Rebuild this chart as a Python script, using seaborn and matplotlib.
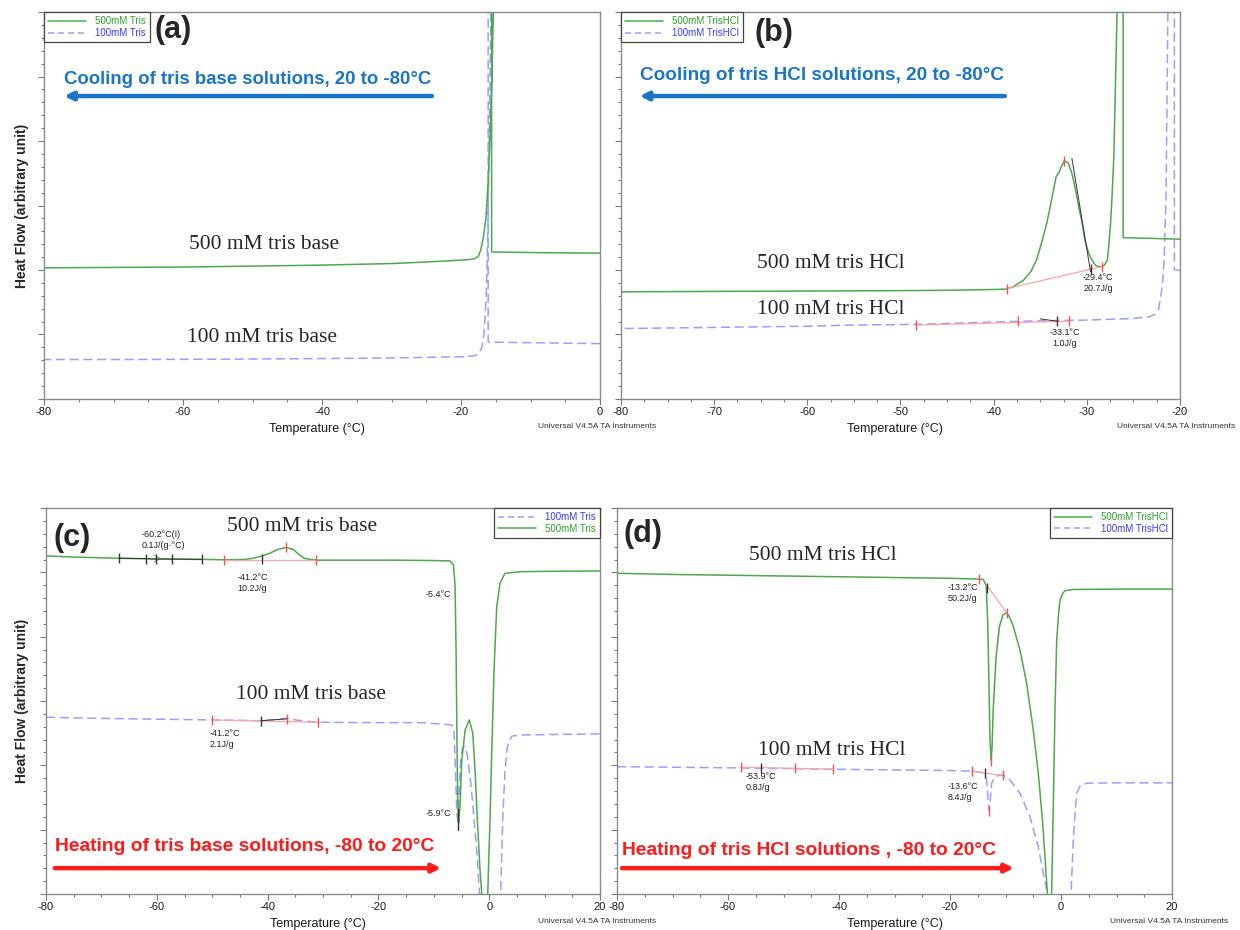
import pandas as pd
import matplotlib
matplotlib.use("Agg")
import matplotlib.pyplot as plt
from matplotlib.ticker import MultipleLocator
from matplotlib.lines import Line2D
import seaborn as sns

sns.set_theme(style="white")
plt.rcParams["font.family"] = ["Liberation Sans", "DejaVu Sans"]
plt.rcParams["axes.unicode_minus"] = False
SERIF = ["Liberation Serif", "DejaVu Serif"]

GREEN = "#4ea84e"
BLUE = "#9d9dff"
GREEN_TXT = "#2e9e2e"
BLUE_TXT = "#3a3aff"
RED_MARK = "#ff4d4d"
RED_LINE = "#ffa3a3"
DARK = "#333333"
TITLE_BLUE = "#1a74c8"
TITLE_RED = "#ff1a1a"

# ---------------- (a) cooling, tris base ----------------
a_t_500 = [0, -8, -15.6, -15.6, -15.2, -15.35, -15.55, -15.8, -16.1, -16.4, -16.8,
           -17.2, -17.5, -18.0, -19.0, -20, -25, -30, -40, -52, -60, -70, -80]
a_hf_500 = [37.7, 37.8, 38.0, 120, 120, 99.7, 84, 68.7, 56, 47.1, 41.5,
            38.3, 36.9, 36.3, 36.0, 35.9, 35.4, 35.0, 34.6, 34.3, 34.1, 34.0, 33.9]
a_t_100 = [0, -8, -16.1, -16.1, -15.6, -15.7, -15.85, -16.06, -16.25, -16.4, -16.7,
           -17.0, -17.5, -18.2, -20, -30, -40, -52, -60, -70, -80]
a_hf_100 = [14.3, 14.5, 14.7, 120, 120, 99.7, 80, 51.4, 35, 25.6, 17,
            13.3, 11.6, 11.1, 10.9, 10.6, 10.45, 10.3, 10.25, 10.2, 10.2]

# ---------------- (b) cooling, tris HCl ----------------
b_t_500 = [-20, -23, -26.1, -26.1, -26.6, -26.8, -27.1, -27.3, -27.45, -27.65, -27.8,
           -28.1, -28.4, -28.8, -29.1, -29.4, -29.8, -30.2, -30.5, -30.9, -31.2, -31.6,
           -32.0, -32.4, -32.7, -33.0, -33.3, -33.7, -34.3, -34.9, -35.4, -36.0, -36.8,
           -37.9, -38.7, -40, -45, -50, -60, -70, -80]
b_hf_500 = [41.3, 41.5, 41.7, 120, 120, 95, 62.6, 52, 45.4, 39.5, 35.9,
            34.6, 34.2, 34.3, 34.6, 35.8, 37.6, 41, 45.4, 50, 54, 58.3,
            61, 61.6, 60.2, 58.5, 57.4, 52.5, 45.4, 40, 35.9, 33, 30.7,
            29.0, 28.4, 28.3, 28.1, 28.0, 27.9, 27.8, 27.7]
b_t_100 = [-20, -20.6, -20.6, -21.1, -21.3, -21.4, -21.5, -21.7, -21.85, -22.0, -22.3,
           -22.7, -23.2, -25, -30, -35, -40, -48, -55, -60, -70, -80]
b_hf_100 = [33.2, 33.4, 120, 120, 100, 75, 51.5, 36, 30.5, 27.4, 23.1,
            21.9, 21.3, 20.8, 20.4, 20.2, 19.9, 19.3, 19.1, 18.8, 18.5, 18.2]

# ---------------- (c) heating, tris base ----------------
c_t_500 = [-80, -75, -67, -60, -52, -48, -44, -42.6, -41, -39.6, -38.1, -36.7, -35.4,
           -34.2, -33.25, -31.1, -25, -17, -10, -7.06, -6.45, -6.16, -5.98, -5.8,
           -5.67, -5.5, -5.25, -4.95, -4.35, -3.6, -2.97, -2.56, -2.14, -1.66, -1.35,
           -0.8, -0.27, 0.14, 0.45, 0.87, 1.35, 1.95, 2.85, 5.6, 10, 20]
c_hf_500 = [87.6, 87.3, 87.0, 86.8, 86.7, 86.6, 86.7, 87.0, 87.6, 88.3, 89.3, 89.8, 89.3,
            87.8, 86.9, 86.5, 86.5, 86.5, 86.4, 86.3, 85.2, 79.6, 62.4, 36.5,
            23.6, 18.4, 23.6, 34.7, 42.5, 45.1, 41.7, 32.1, 19.2, 6.2, 0,
            -15, 0, 19.2, 36.5, 58, 74.4, 80.6, 83.1, 83.5, 83.6, 83.7]
c_t_100 = [-80, -70, -60, -50, -45, -41.2, -38.5, -36.5, -34.5, -30.9, -20, -12,
           -6.76, -6.34, -6.1, -5.85, -5.6, -5.4, -5.15, -4.85, -4.5, -4.02, -3.43,
           -2.83, -2.22, -1.75, 0.2, 2.07, 2.43, 2.85, 3.27, 4.06, 5.56, 10, 20]
c_hf_100 = [45.8, 45.5, 45.3, 45.1, 45.0, 44.9, 45.2, 45.5, 45.0, 44.5, 44.4, 44.4,
            43.8, 41.7, 32.1, 21.0, 17.9, 27.8, 34.7, 37.7, 38.3, 36.5, 30.3,
            21.0, 10.6, 0, -20, 0, 19.2, 32.1, 38.2, 40.9, 41.2, 41.3, 41.5]

# ---------------- (d) heating, tris HCl ----------------
d_t_500 = [-80, -70, -60, -50, -40, -30, -20, -15, -14.0, -13.5, -13.2, -12.97, -12.8,
           -12.6, -12.43, -12.2, -11.7, -11.1, -10.5, -9.8, -9.2, -8.6, -7.4, -6.2,
           -5.0, -4.1, -3.3, -2.7, -2.45, -2.1, -1.7, -1.4, -1.08, -0.78, -0.45,
           -0.18, 0.3, 0.72, 2.2, 10, 20]
d_hf_500 = [83.1, 82.8, 82.6, 82.4, 82.2, 82.0, 81.8, 81.6, 81.5, 80.0, 70.2, 52.8, 39.9,
            34.7, 38.1, 48.5, 61.5, 69.3, 72.3, 72.9, 71.6, 69.3, 63.2, 54.6,
            42.5, 31.3, 18.3, 5.4, 0, -15, 0, 22.6, 48.5, 65.8, 72.5,
            76.2, 77.9, 78.6, 78.9, 79.0, 79.0]
d_t_100 = [-80, -70, -60, -50, -40, -30, -20, -16, -14.2, -13.7, -13.4, -13.15, -12.97,
           -12.8, -12.5, -11.9, -11.0, -10.4, -9.2, -7.4, -5.6, -4.1, -3.2, -2.45,
           -0.3, 1.8, 2.2, 2.8, 3.5, 4.6, 10, 20]
d_hf_100 = [33.0, 32.85, 32.7, 32.5, 32.3, 32.15, 32.0, 31.8, 31.5, 30.8, 29.5, 24.4, 21.8,
            23.5, 28.7, 30.4, 30.8, 30.8, 29.5, 26.1, 20.0, 12.3, 5.4, 0,
            -40, 0, 14, 26.1, 28.2, 28.7, 28.8, 28.8]

# ---------------- analysis marks ----------------
b_base_500 = ([-38.6, -28.4], [28.5, 34.2])
b_red_500 = ([-38.6, -32.4, -28.4], [28.5, 61.6, 34.2])
b_tangent_500 = ([-31.6, -29.6], [62.2, 32.9])
b_black_500 = ([-29.6], [33.6])
b_base_100 = ([-48.35, -31.9], [19.1, 20.1])
b_red_100 = ([-48.35, -37.4, -31.9], [19.1, 20.2, 20.1])
b_seg_100 = ([-35.0, -33.2], [20.7, 20.1])
b_black_100 = ([-33.2], [20.1])

c_black_500 = ([-66.8, -61.95, -60.1, -57.3, -51.9, -41.1], [87.0, 86.9, 86.8, 86.8, 86.7, 86.9])
c_base_500 = ([-47.8, -31.3], [86.5, 86.5])
c_red_500 = ([-47.8, -36.7, -31.3], [86.6, 89.8, 86.5])
c_dip_black = ([-5.7, -5.7], [16.5, 22.0])
c_base_100 = ([-50.0, -30.9], [45.1, 44.5])
c_red_100 = ([-50.0, -36.5, -30.9], [45.1, 45.4, 44.5])
c_black_100 = ([-41.2], [44.9])

d_red_500 = ([-14.7, -9.8, -12.6], [81.6, 72.9, 34.4])
d_base_500 = ([-13.4, -9.8], [80.0, 72.9])
d_black_500 = ([-13.4], [79.3])
d_base_100a = ([-57.6, -41.0], [32.85, 32.35])
d_red_100a = ([-57.6, -47.9, -41.0], [32.85, 32.55, 32.35])
d_black_100a = ([-54.0], [32.7])
d_base_100b = ([-16.0, -10.4], [31.8, 30.7])
d_red_100b = ([-16.0, -10.4, -12.97], [31.8, 30.8, 21.6])
d_black_100b = ([-13.7], [31.3])


def trace(ax, t, hf, color, dashed):
    df = pd.DataFrame({"Temperature": t, "HeatFlow": hf})
    sns.lineplot(data=df, x="Temperature", y="HeatFlow", sort=False, estimator=None,
                 ax=ax, color=color, lw=1.1,
                 linestyle=(0, (6, 3)) if dashed else "-")


def marks(ax, pts, color, size=7):
    ax.plot(pts[0], pts[1], ls="none", marker="|", ms=size, mew=1.0, color=color, zorder=5)


def seg(ax, pts, color, lw=0.9):
    ax.plot(pts[0], pts[1], color=color, lw=lw, zorder=4)


def note(ax, x, y, s, ha="left"):
    ax.text(x, y, s, fontsize=6.5, ha=ha, va="center", color="#222222", linespacing=1.25)


def style_axes(ax, xlim, xmaj, xmin):
    ax.set_xlim(*xlim)
    ax.set_ylim(0, 100)
    ax.xaxis.set_major_locator(MultipleLocator(xmaj))
    ax.xaxis.set_minor_locator(MultipleLocator(xmin))
    ax.yaxis.set_major_locator(MultipleLocator(100 / 6))
    ax.yaxis.set_minor_locator(MultipleLocator(100 / 30))
    ax.tick_params(axis="both", which="both", direction="out", colors="#7a7a7a",
                   labelcolor="#1a1a1a", labelsize=8, width=0.8, pad=2,
                   bottom=True, left=True)
    ax.tick_params(which="major", length=4)
    ax.tick_params(which="minor", length=2)
    ax.tick_params(axis="y", labelleft=False)
    for sp in ax.spines.values():
        sp.set_color("#8a8a8a")
        sp.set_linewidth(1.0)
    ax.set_xlabel("Temperature (°C)", fontsize=9, color="#1a1a1a")
    ax.xaxis.set_label_coords(0.49, -0.062)
    ax.set_ylabel("")
    ax.text(0.888, -0.072, "Universal V4.5A TA Instruments", transform=ax.transAxes,
            fontsize=6, color="#333333", ha="left", va="center", clip_on=False)


def legend(ax, entries, loc):
    handles = [Line2D([], [], color=c, lw=1.1, linestyle=(0, (4, 2.5)) if d else "-")
               for _, c, d, _ in entries]
    lg = ax.legend(handles, [e[0] for e in entries], loc=loc, borderaxespad=0,
                   frameon=True, fancybox=False, framealpha=1, edgecolor="#444444",
                   fontsize=7, handlelength=3.9, handletextpad=0.9, labelspacing=0.15,
                   borderpad=0.45, labelcolor=[e[3] for e in entries])
    lg.get_frame().set_linewidth(0.9)


def heading(ax, x0, x1, y_text, y_arrow, s, color, rightward, size):
    ax.text(x0, y_text, s, fontsize=size, fontweight="bold", color=color,
            ha="left", va="center")
    start, end = (x0, x1) if rightward else (x1, x0)
    ax.annotate("", xy=(end, y_arrow), xytext=(start, y_arrow),
                arrowprops=dict(arrowstyle="-|>", color=color, lw=3.2,
                                mutation_scale=12, shrinkA=0, shrinkB=0))


fig = plt.figure(figsize=(12.4, 9.3), dpi=100)
ax_a = fig.add_axes([0.0355, 0.571, 0.4484, 0.416])
ax_b = fig.add_axes([0.5008, 0.571, 0.4508, 0.416])
ax_c = fig.add_axes([0.0371, 0.0387, 0.4468, 0.415])
ax_d = fig.add_axes([0.4976, 0.0387, 0.4476, 0.415])

# ---- (a)
trace(ax_a, a_t_100, a_hf_100, BLUE, True)
trace(ax_a, a_t_500, a_hf_500, GREEN, False)
style_axes(ax_a, (-80, 0), 20, 5)
legend(ax_a, [("500mM Tris", GREEN, False, GREEN_TXT),
              ("100mM Tris", BLUE, True, BLUE_TXT)], "upper left")
ax_a.text(0.232, 0.953, "(a)", transform=ax_a.transAxes, fontsize=22,
          fontweight="bold", ha="center", va="center")
heading(ax_a, -77.1, -24.2, 82.7, 78.3, "Cooling of tris base solutions, 20 to -80°C",
        TITLE_BLUE, False, 13.4)
ax_a.text(-48.4, 39.8, "500 mM tris base", family=SERIF, fontsize=15.5, ha="center", va="center")
ax_a.text(-48.6, 16.0, "100 mM tris base", family=SERIF, fontsize=15.5, ha="center", va="center")
ax_a.set_ylabel("Heat Flow (arbitrary unit)", fontsize=10, fontweight="bold")
ax_a.yaxis.set_label_coords(-0.027, 0.5)

# ---- (b)
trace(ax_b, b_t_100, b_hf_100, BLUE, True)
trace(ax_b, b_t_500, b_hf_500, GREEN, False)
style_axes(ax_b, (-80, -20), 10, 2.5)
legend(ax_b, [("500mM TrisHCl", GREEN, False, GREEN_TXT),
              ("100mM TrisHCl", BLUE, True, BLUE_TXT)], "upper left")
ax_b.text(0.274, 0.946, "(b)", transform=ax_b.transAxes, fontsize=22,
          fontweight="bold", ha="center", va="center")
heading(ax_b, -78.0, -38.8, 83.7, 78.3, "Cooling of tris HCl solutions, 20 to -80°C",
        TITLE_BLUE, False, 13.6)
ax_b.text(-57.5, 35.1, "500 mM tris HCl", family=SERIF, fontsize=15.5, ha="center", va="center")
ax_b.text(-57.5, 23.0, "100 mM tris HCl", family=SERIF, fontsize=15.5, ha="center", va="center")
seg(ax_b, b_base_500, RED_LINE)
seg(ax_b, b_tangent_500, DARK, 0.7)
marks(ax_b, b_red_500, RED_MARK)
marks(ax_b, b_black_500, DARK)
note(ax_b, -28.8, 29.9, "-29.4°C\n20.7J/g", ha="center")
seg(ax_b, b_base_100, RED_LINE)
seg(ax_b, b_seg_100, DARK, 0.7)
marks(ax_b, b_red_100, RED_MARK)
marks(ax_b, b_black_100, DARK)
note(ax_b, -32.4, 15.75, "-33.1°C\n1.0J/g", ha="center")

# ---- (c)
trace(ax_c, c_t_100, c_hf_100, BLUE, True)
trace(ax_c, c_t_500, c_hf_500, GREEN, False)
style_axes(ax_c, (-80, 20), 20, 5)
legend(ax_c, [("100mM Tris", BLUE, True, BLUE_TXT),
              ("500mM Tris", GREEN, False, GREEN_TXT)], "upper right")
ax_c.text(0.047, 0.922, "(c)", transform=ax_c.transAxes, fontsize=22,
          fontweight="bold", ha="center", va="center")
heading(ax_c, -78.4, -8.7, 12.4, 6.7, "Heating of tris base solutions, -80 to 20°C",
        TITLE_RED, True, 13.9)
ax_c.text(-33.7, 95.3, "500 mM tris base", family=SERIF, fontsize=15.5, ha="center", va="center")
ax_c.text(-32.2, 51.6, "100 mM tris base", family=SERIF, fontsize=15.5, ha="center", va="center")
seg(ax_c, (c_black_500[0][:5], c_black_500[1][:5]), DARK, 0.7)
ax_c.annotate("", xy=(-58.6, 86.9), xytext=(-61.6, 86.9),
              arrowprops=dict(arrowstyle="->", color="#999999", lw=0.7))
seg(ax_c, c_base_500, RED_LINE)
marks(ax_c, c_black_500, DARK)
marks(ax_c, c_red_500, RED_MARK)
note(ax_c, -62.7, 91.8, "-60.2°C(I)\n0.1J/(g·°C)")
note(ax_c, -45.5, 80.6, "-41.2°C\n10.2J/g")
note(ax_c, -6.9, 77.5, "-5.4°C", ha="right")
note(ax_c, -6.9, 20.9, "-5.9°C", ha="right")
seg(ax_c, c_dip_black, DARK, 1.0)
seg(ax_c, c_base_100, RED_LINE)
seg(ax_c, ([-41.2, -36.5], [44.9, 45.4]), DARK, 0.7)
marks(ax_c, c_red_100, RED_MARK)
marks(ax_c, c_black_100, DARK)
note(ax_c, -50.4, 40.2, "-41.2°C\n2.1J/g")
ax_c.set_ylabel("Heat Flow (arbitrary unit)", fontsize=10, fontweight="bold")
ax_c.yaxis.set_label_coords(-0.031, 0.5)

# ---- (d)
trace(ax_d, d_t_100, d_hf_100, BLUE, True)
trace(ax_d, d_t_500, d_hf_500, GREEN, False)
style_axes(ax_d, (-80, 20), 20, 5)
ax_d.xaxis.set_label_coords(0.5, -0.062)
legend(ax_d, [("500mM TrisHCl", GREEN, False, GREEN_TXT),
              ("100mM TrisHCl", BLUE, True, BLUE_TXT)], "upper right")
ax_d.text(0.047, 0.933, "(d)", transform=ax_d.transAxes, fontsize=22,
          fontweight="bold", ha="center", va="center")
heading(ax_d, -79.1, -8.5, 11.4, 6.7, "Heating of tris HCl solutions , -80 to 20°C",
        TITLE_RED, True, 13.9)
ax_d.text(-42.9, 87.6, "500 mM tris HCl", family=SERIF, fontsize=15.5, ha="center", va="center")
ax_d.text(-41.3, 37.3, "100 mM tris HCl", family=SERIF, fontsize=15.5, ha="center", va="center")
seg(ax_d, d_base_500, RED_LINE)
marks(ax_d, d_red_500, RED_MARK)
marks(ax_d, d_black_500, DARK)
note(ax_d, -20.4, 78.0, "-13.2°C\n50.2J/g")
seg(ax_d, d_base_100a, RED_LINE)
marks(ax_d, d_red_100a, RED_MARK)
marks(ax_d, d_black_100a, DARK)
note(ax_d, -56.8, 29.0, "-53.9°C\n0.8J/g")
seg(ax_d, d_base_100b, RED_LINE)
marks(ax_d, d_red_100b, RED_MARK)
marks(ax_d, d_black_100b, DARK)
note(ax_d, -20.4, 26.5, "-13.6°C\n8.4J/g")

fig.savefig("out.png", dpi=100, facecolor="white")
